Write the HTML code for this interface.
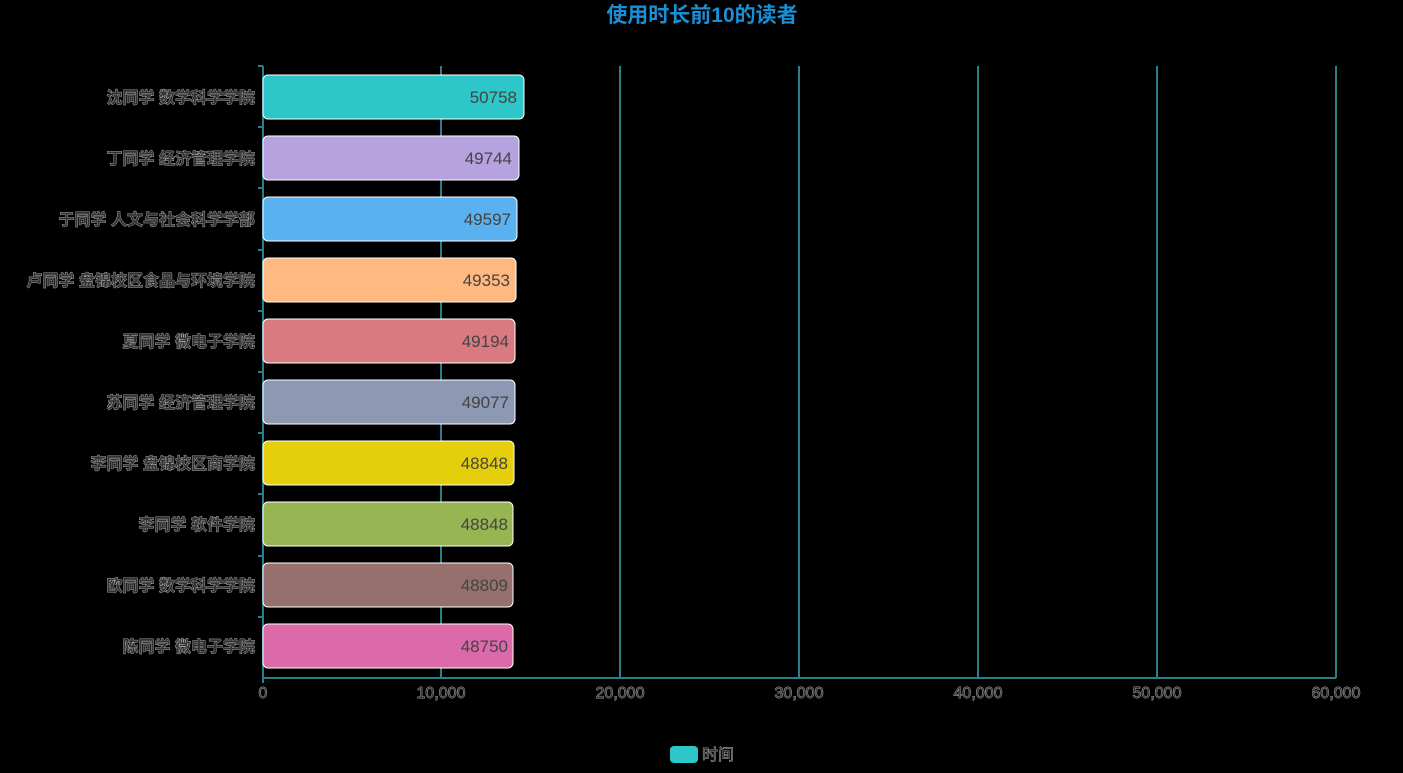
<!DOCTYPE html>
<html><head><meta charset="utf-8"><style>
body{margin:0;background:#000;}
svg text{font-family:"Liberation Sans","Noto Sans CJK SC",sans-serif;}
</style></head><body>
<svg width="1403" height="768" xmlns="http://www.w3.org/2000/svg">
<rect width="1403" height="768" fill="#000"/>
<text x="702" y="22" text-anchor="middle" font-size="21" font-weight="bold" fill="#1a8fd6">使用时长前10的读者</text>
<g stroke="#2a7f8a" stroke-width="2">
<line x1="441" y1="66" x2="441" y2="678"/>
<line x1="620" y1="66" x2="620" y2="678"/>
<line x1="799" y1="66" x2="799" y2="678"/>
<line x1="978" y1="66" x2="978" y2="678"/>
<line x1="1157" y1="66" x2="1157" y2="678"/>
<line x1="1336" y1="66" x2="1336" y2="678"/>
<line x1="263" y1="678" x2="1336" y2="678"/>
<line x1="263" y1="66" x2="263" y2="683"/>
</g>
<g stroke="#2a7f8a" stroke-width="2">
<line x1="258" y1="66" x2="263" y2="66"/><line x1="258" y1="127" x2="263" y2="127"/><line x1="258" y1="188" x2="263" y2="188"/><line x1="258" y1="250" x2="263" y2="250"/><line x1="258" y1="311" x2="263" y2="311"/><line x1="258" y1="372" x2="263" y2="372"/><line x1="258" y1="433" x2="263" y2="433"/><line x1="258" y1="494" x2="263" y2="494"/><line x1="258" y1="556" x2="263" y2="556"/><line x1="258" y1="617" x2="263" y2="617"/>
</g>
<g stroke="#fff" stroke-width="1">
<rect x="263" y="75" width="261" height="44" rx="5" fill="#2ec7c9"/>
<rect x="263" y="136" width="256" height="44" rx="5" fill="#b6a2de"/>
<rect x="263" y="197" width="254" height="44" rx="5" fill="#5ab1ef"/>
<rect x="263" y="258" width="253" height="44" rx="5" fill="#ffb980"/>
<rect x="263" y="319" width="252" height="44" rx="5" fill="#d87a80"/>
<rect x="263" y="380" width="252" height="44" rx="5" fill="#8d98b3"/>
<rect x="263" y="441" width="251" height="44" rx="5" fill="#e5cf0d"/>
<rect x="263" y="502" width="250" height="44" rx="5" fill="#97b552"/>
<rect x="263" y="563" width="250" height="44" rx="5" fill="#95706d"/>
<rect x="263" y="624" width="250" height="44" rx="5" fill="#dc69aa"/>
</g>
<g font-size="17" fill="#444" text-anchor="end">
<text x="517" y="103">50758</text>
<text x="512" y="164">49744</text>
<text x="511" y="225">49597</text>
<text x="510" y="286">49353</text>
<text x="509" y="347">49194</text>
<text x="509" y="408">49077</text>
<text x="508" y="469">48848</text>
<text x="508" y="530">48848</text>
<text x="508" y="591">48809</text>
<text x="508" y="652">48750</text>
</g>
<g font-size="16" font-weight="bold" fill="#333" stroke="#ccc" stroke-width="0.7" paint-order="stroke" text-anchor="end">
<text x="255" y="103">沈同学 数学科学学院</text>
<text x="255" y="164">丁同学 经济管理学院</text>
<text x="255" y="225">于同学 人文与社会科学学部</text>
<text x="255" y="286">卢同学 盘锦校区食品与环境学院</text>
<text x="255" y="347">夏同学 微电子学院</text>
<text x="255" y="408">苏同学 经济管理学院</text>
<text x="255" y="469">李同学 盘锦校区商学院</text>
<text x="255" y="530">李同学 软件学院</text>
<text x="255" y="591">欧同学 数学科学学院</text>
<text x="255" y="652">陈同学 微电子学院</text>
</g>
<g font-size="16" fill="#333" stroke="#ccc" stroke-width="0.7" paint-order="stroke" text-anchor="middle">
<text x="263" y="698">0</text>
<text x="441" y="698">10,000</text>
<text x="620" y="698">20,000</text>
<text x="799" y="698">30,000</text>
<text x="978" y="698">40,000</text>
<text x="1157" y="698">50,000</text>
<text x="1336" y="698">60,000</text>
</g>
<rect x="670" y="746" width="28" height="17" rx="4" fill="#2ec7c9"/>
<text x="702" y="760" font-size="16" fill="#333" stroke="#ccc" stroke-width="0.7" paint-order="stroke">时间</text>
</svg>
</body></html>
